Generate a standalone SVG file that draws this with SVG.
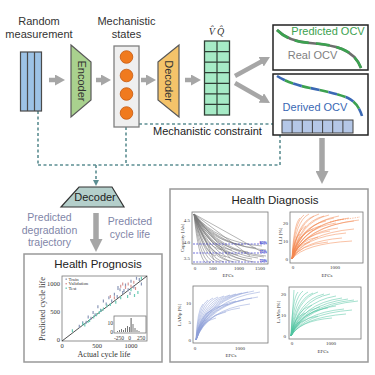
<svg xmlns="http://www.w3.org/2000/svg" width="375" height="375" viewBox="0 0 375 375">
<style>
.t{font-family:"Liberation Sans",Arial,sans-serif;fill:#333}
.s{font-family:"Liberation Serif","Times New Roman",serif;fill:#333}
.ga{stroke:#A6A6A6;stroke-width:4.5;fill:none}
.gb{stroke:#A6A6A6;stroke-width:5.5;fill:none}
.dl{stroke:#5C8E92;stroke-width:1.6;stroke-dasharray:3 2.5;fill:none}
.ax{fill:#fff;stroke:#777;stroke-width:0.8}
.cap{stroke:#777;stroke-width:0.55;fill:none}
.lli{stroke:#F4874F;stroke-width:0.6;fill:none;opacity:0.85}
.lamp{stroke:#8C9ED8;stroke-width:0.6;fill:none;opacity:0.85}
.lamn{stroke:#4FC3A1;stroke-width:0.6;fill:none;opacity:0.85}
.tk{font-family:"Liberation Serif","Times New Roman",serif;fill:#333;font-size:5px}
</style>
<defs>
<marker id="gh" viewBox="0 0 10 11" refX="3" refY="5.5" markerWidth="10" markerHeight="11" markerUnits="userSpaceOnUse" orient="auto"><path d="M0,0 L10,5.5 L0,11 z" fill="#A6A6A6"/></marker>
<marker id="gh2" viewBox="0 0 10 10" refX="2.3" refY="5" markerWidth="13" markerHeight="13" markerUnits="userSpaceOnUse" orient="auto"><path d="M0,0 L10,5 L0,10 z" fill="#A6A6A6"/></marker>
<marker id="dh" viewBox="0 0 8 8" refX="2" refY="4" markerWidth="6" markerHeight="6" markerUnits="userSpaceOnUse" orient="auto"><path d="M0,0 L8,4 L0,8 z" fill="#5C8E92"/></marker>
</defs>

<g id="connectors">
<line class="ga" x1="49" y1="80" x2="58" y2="80" marker-end="url(#gh)"/>
<line class="ga" x1="96" y1="80" x2="104" y2="80" marker-end="url(#gh)"/>
<line class="ga" x1="141" y1="80" x2="149" y2="80" marker-end="url(#gh)"/>
<line class="ga" x1="185" y1="80" x2="194" y2="80" marker-end="url(#gh)"/>
<line class="ga" x1="235" y1="76" x2="263.8" y2="60.3" marker-end="url(#gh)"/>
<line class="ga" x1="235" y1="83" x2="263.9" y2="99.5" marker-end="url(#gh)"/>
<line class="gb" x1="96" y1="213" x2="96" y2="242" marker-end="url(#gh2)"/>
<line class="gb" x1="322" y1="138" x2="322" y2="174" marker-end="url(#gh2)"/>
<path class="dl" d="M38,111 V165 M126,127 V165 M38,165 H280 V135"/>
<line class="dl" x1="139" y1="124" x2="276.5" y2="124" marker-end="url(#dh)"/>
<line class="dl" x1="96" y1="165" x2="96" y2="181.5" marker-end="url(#dh)"/>
</g>

<g id="random-measurement">
<text class="t" x="39" y="25" font-size="11" text-anchor="middle">Random</text>
<text class="t" x="39" y="38" font-size="11" text-anchor="middle">measurement</text>
<rect x="20.5" y="52" width="21" height="59" fill="#9DC3E6" stroke="#4a4a4a" stroke-width="1.2"/>
<path d="M27.5,52 V111 M34.5,52 V111" stroke="#4a4a4a" stroke-width="1.2"/>
</g>

<g id="encoder">
<polygon points="71,45 91,62 91,100 71,117" fill="#A9D18E" stroke="#595959" stroke-width="1.2"/>
<text class="t" font-size="11" text-anchor="middle" transform="translate(77.5,81) rotate(90)">Encoder</text>
</g>

<g id="mechanistic-states">
<text class="t" x="126.5" y="25" font-size="11" text-anchor="middle">Mechanistic</text>
<text class="t" x="126.5" y="38" font-size="11" text-anchor="middle">states</text>
<rect x="114" y="46" width="25" height="81" fill="#EFEFEF" stroke="#7F7F7F" stroke-width="1.3"/>
<g fill="#F07A1E" stroke="#C55A11" stroke-width="0.8">
<circle cx="126.5" cy="57" r="6.3"/>
<circle cx="126.5" cy="75.5" r="6.3"/>
<circle cx="126.5" cy="94" r="6.3"/>
<circle cx="126.5" cy="113" r="6.3"/>
</g>
</g>

<g id="decoder">
<polygon points="158,62 179,45 179,117 158,100" fill="#F4C36A" stroke="#595959" stroke-width="1.2"/>
<text class="t" font-size="11" text-anchor="middle" transform="translate(165,81) rotate(90)">Decoder</text>
</g>

<g id="vq-grid">
<text class="s" x="216.5" y="35" font-size="10" font-style="italic" text-anchor="middle">V̂ Q̂</text>
<rect x="204.5" y="41" width="25" height="74" fill="#A6EBC6" stroke="#2F3F35" stroke-width="1.3"/>
<path d="M217,41 V115 M204.5,51.6 H229.5 M204.5,62.1 H229.5 M204.5,72.7 H229.5 M204.5,83.3 H229.5 M204.5,93.9 H229.5 M204.5,104.4 H229.5" stroke="#2F3F35" stroke-width="1.2"/>
</g>

<g id="predicted-ocv">
<rect x="273" y="25" width="95" height="45" fill="#fff" stroke="#222" stroke-width="1.5"/>
<path d="M277,30 C285,38 295,42 310,43 C322,44 332,45 342,49 C352,53 358,60 361,68" fill="none" stroke="#6E6E6E" stroke-width="2.6"/>
<path d="M277,30 C285,38 295,42 310,43 C322,44 332,45 342,49 C352,53 358,60 361,68" fill="none" stroke="#3CA150" stroke-width="2.6" stroke-dasharray="14 7"/>
<text class="t" x="328" y="35" font-size="11" text-anchor="middle" style="fill:#3CA150">Predicted OCV</text>
<text class="t" x="312.5" y="59" font-size="11" text-anchor="middle" style="fill:#7F7F7F">Real OCV</text>
</g>

<g id="derived-ocv">
<rect x="273" y="74" width="95" height="61" fill="#fff" stroke="#222" stroke-width="1.5"/>
<path d="M277,76 C285,81 295,85 310,88 C325,91 338,94 348,98 C356,102 360,109 362,116" fill="none" stroke="#3CA150" stroke-width="2.6" stroke-dasharray="9 9" stroke-dashoffset="9"/>
<path d="M277,76 C285,81 295,85 310,88 C325,91 338,94 348,98 C356,102 360,109 362,116" fill="none" stroke="#3A68B4" stroke-width="2.6" stroke-dasharray="9 9"/>
<text class="t" x="315" y="111" font-size="11" text-anchor="middle" style="fill:#3A68B4">Derived OCV</text>
<rect x="282" y="120" width="71" height="13" fill="#B4C7E7" stroke="#404040" stroke-width="1"/>
<path d="M292.1,120 V133 M302.3,120 V133 M312.4,120 V133 M322.6,120 V133 M332.7,120 V133 M342.9,120 V133" stroke="#404040" stroke-width="1"/>
</g>

<g id="mechanistic-constraint">
<text class="t" x="153" y="135" font-size="11" style="fill:#222">Mechanistic constraint</text>
</g>

<g id="decoder-bottom">
<polygon points="79,187 112,187 124,207 61,207" fill="#B4CFCB" stroke="#333" stroke-width="1.2"/>
<text class="t" x="95" y="201" font-size="11" text-anchor="middle" style="fill:#222">Decoder</text>
</g>

<g id="prediction-labels">
<text class="t" x="49.5" y="221" font-size="10.5" text-anchor="middle" style="fill:#7F86A8">Predicted</text>
<text class="t" x="49.5" y="233.5" font-size="10.5" text-anchor="middle" style="fill:#7F86A8">degradation</text>
<text class="t" x="49.5" y="246" font-size="10.5" text-anchor="middle" style="fill:#7F86A8">trajectory</text>
<text class="t" x="130" y="225" font-size="10.5" text-anchor="middle" style="fill:#7F86A8">Predicted</text>
<text class="t" x="130" y="238" font-size="10.5" text-anchor="middle" style="fill:#7F86A8">cycle life</text>
</g>

<g id="health-prognosis">
<rect x="24" y="254" width="138" height="108" fill="#fff" stroke="#999" stroke-width="1.5"/>
<text class="t" x="98" y="268" font-size="11.5" text-anchor="middle" style="fill:#222">Health Prognosis</text>
<rect x="62" y="276" width="85" height="65" class="ax"/>
<line x1="62" y1="341" x2="147" y2="276" stroke="#222" stroke-width="0.8"/>
<path d="M79.3,324.7v3 M82.7,321.3v3 M86.2,320.7v3 M88.2,315.6v3 M91,316.7v3 M93.1,311v3 M95.1,313.3v3 M97.9,305.3v3 M100.6,308.7v3 M103.4,299.6v3 M106.2,302.5v3 M108.9,296.2v3 M111.7,299.6v3 M114.4,292.8v3 M117.2,295v3 M120,288.2v3 M122.7,291v3 M125.5,283.6v3 M128.2,288.2v3 M131,279.7v3 M133.8,285.4v3 M136.5,276.8v3 M139.3,278v3 M141.4,282.5v3 M118,286v4 M124,289v3 M130,292v3" stroke="#8A97B8" stroke-width="1.2"/>
<path d="M120.7,284.8v3 M122.7,282.5v3 M125.5,285.9v3 M128.2,282.5v3 M131,284.8v3 M133.8,280.8v3 M110.3,295v3 M114.4,296.2v3 M135.5,287v3" stroke="#D99694" stroke-width="1.2"/>
<path d="M72.4,329.2v3 M82.7,322.4v3 M84.8,323.5v3 M89.6,319v3 M93.7,315.6v3 M96.5,313.3v3 M99.3,311v3 M103.4,307.6v3 M106.9,304.2v3 M110.3,303v3 M115.8,300.7v3 M120.7,296.2v3 M127.6,295v3 M134.5,293.9v3 M137.9,291v3 M141.4,276.8v3 M131,288.2v3 M88,321v2 M101,309v3" stroke="#6CCBB5" stroke-width="1.2"/>
<rect x="65.5" y="278.5" width="1.4" height="1.4" fill="#8A97B8"/>
<rect x="65.5" y="283" width="1.4" height="1.4" fill="#D99694"/>
<rect x="65.5" y="287.5" width="1.4" height="1.4" fill="#6CCBB5"/>
<text class="s" x="68.5" y="280.5" font-size="4.8">Train</text>
<text class="s" x="68.5" y="285" font-size="4.8">Validation</text>
<text class="s" x="68.5" y="289.5" font-size="4.8">Test</text>
<rect x="114" y="316" width="32" height="17" class="ax"/>
<path d="M117,331h1v1h-1z M119,330h1v2h-1z M121,329h1v3h-1z M123,330h1v2h-1z M125,328h1v4h-1z M127,326h1v6h-1z M129,327h1v5h-1z M130.5,318h1.2v14h-1.2z M132.5,324h1v8h-1z M134.5,328h1v4h-1z M136.5,330h1v2h-1z M138.5,331h1v1h-1z" fill="#777"/>
<text class="s" x="113" y="325" font-size="5.5" text-anchor="end">10</text>
<text class="s" x="113" y="334" font-size="5.5" text-anchor="end">0</text>
<text class="s" x="119" y="339.5" font-size="5.5" text-anchor="middle">-250</text>
<text class="s" x="129.5" y="339.5" font-size="5.5" text-anchor="middle">0</text>
<text class="s" x="141" y="339.5" font-size="5.5" text-anchor="middle">250</text>
<text class="s" x="60" y="286" font-size="6.5" text-anchor="end">1000</text>
<text class="s" x="60" y="313.5" font-size="6.5" text-anchor="end">500</text>
<text class="s" x="60" y="342" font-size="6.5" text-anchor="end">0</text>
<text class="s" x="62" y="347.5" font-size="6.5" text-anchor="middle">0</text>
<text class="s" x="97" y="347.5" font-size="6.5" text-anchor="middle">500</text>
<text class="s" x="131" y="347.5" font-size="6.5" text-anchor="middle">1000</text>
<text class="s" x="104" y="356.5" font-size="8" text-anchor="middle">Actual cycle life</text>
<text class="s" font-size="8.3" text-anchor="middle" transform="translate(45,309) rotate(-90)">Predicted cycle life</text>
</g>

<g id="health-diagnosis">
<rect x="170" y="189" width="198" height="173" fill="#fff" stroke="#999" stroke-width="1.5"/>
<text class="t" x="275" y="204" font-size="11.5" text-anchor="middle" style="fill:#222">Health Diagnosis</text>

<rect x="192" y="212" width="76" height="52" class="ax"/>
<path class="cap" d="M194,214 Q198.2,258.1 206,263 M194,214 Q199.6,258.1 210,263 M194,214 Q201,257.2 214,262 M194,214 Q202.8,257.2 219,262 M194,214 Q204.5,257.2 224,262 M194,214 Q206.3,256.3 229,261 M194,214 Q208,257.2 234,262 M194,214 Q210.1,256.3 240,261 M194,214 Q212.2,255.4 246,260 M194,214 Q214.3,254.5 252,259 M194,214 Q216.4,253.6 258,258 M194,214 Q218.5,252.7 264,257 M194,214 Q219.2,246.4 266,250 M194,214 Q217.8,242.8 262,246 M194,214 Q215.7,244.6 256,248 M194,214 Q212.9,248.2 248,252 M194,214 Q209.4,250.9 238,255 M194,214 Q205.2,252.7 226,257 M194,214 Q201.7,251.8 216,256 M194,214 Q211.5,241.9 244,245 M194,214 Q207.3,246.4 232,250 M194,214 Q219.2,251.8 266,256 M194,214 Q203.8,246.4 222,250 M194,214 Q215,257.2 254,262 M194,214 L230,258 M194,214 L250,256 M194,214 L262,252 M194,214 L214,260"/>
<path d="M193,244 H267 M193,253 H267 M193,262 H267" stroke="#3333CC" stroke-width="0.7" stroke-dasharray="2 1.2"/>
<text x="267" y="243.5" font-family="Liberation Sans,Arial,sans-serif" font-size="3.8" font-weight="bold" fill="#3333CC" text-anchor="end">80%</text>
<text x="267" y="252.5" font-family="Liberation Sans,Arial,sans-serif" font-size="3.8" font-weight="bold" fill="#3333CC" text-anchor="end">75%</text>
<text x="267" y="261.5" font-family="Liberation Sans,Arial,sans-serif" font-size="3.8" font-weight="bold" fill="#3333CC" text-anchor="end">70%</text>
<text class="tk" x="190" y="222" text-anchor="end">4.5</text>
<text class="tk" x="190" y="243.5" text-anchor="end">4.0</text>
<text class="tk" x="190" y="259.5" text-anchor="end">3.5</text>
<text class="tk" x="195" y="270" text-anchor="middle">0</text>
<text class="tk" x="213" y="270" text-anchor="middle">500</text>
<text class="tk" x="239" y="270" text-anchor="middle">1000</text>
<text class="tk" x="260" y="270" text-anchor="middle">1500</text>
<text class="tk" x="228" y="276.5" text-anchor="middle" font-size="5.5">EFCs</text>
<text class="tk" font-size="5" text-anchor="middle" transform="translate(183.5,238) rotate(-90)">Capacity [Ah]</text>

<rect x="290" y="212" width="73" height="51" class="ax"/>
<path class="lli" d="M292,259 Q293.6,224.2 300,218 M292,259 Q294.4,221.6 304,215 M292,259 Q295.4,220.8 309,214 M292,259 Q296.4,222.5 314,216 M292,259 Q297.4,220.8 319,214 M292,259 Q298.4,222.5 324,216 M292,259 Q299.4,221.6 329,215 M292,259 Q300.4,224.2 334,218 M292,259 Q301.4,222.5 339,216 M292,259 Q302.4,225 344,219 M292,259 Q303.4,224.2 349,218 M292,259 Q304.4,226.7 354,221 M292,259 Q305.4,225.9 359,220 M292,259 Q294.8,231 306,226 M292,259 Q296.2,233.5 313,229 M292,259 Q297.8,231 321,226 M292,259 Q299.6,235.2 330,231 M292,259 Q301.2,232.7 338,228 M292,259 Q302.8,236.9 346,233 M292,259 Q304.4,233.5 354,229 M292,259 Q297.2,240.3 318,237 M292,259 Q299.2,244.6 328,242 M292,259 Q302,241.2 342,238 M292,259 Q293.6,237.8 300,234 M292,259 Q295.6,244.6 310,242 M292,259 Q304,243.7 352,241 M292,259 Q300.8,228.4 336,223 M292,259 Q298.8,226.7 326,221"/>
<path d="M330,222 L338,220 L346,219 L354,218 L360,217" stroke="#F4874F" stroke-width="0.5" stroke-dasharray="1.5 1" fill="none"/>
<text class="tk" x="288" y="224.5" text-anchor="end">20</text>
<text class="tk" x="288" y="242.5" text-anchor="end">10</text>
<text class="tk" x="288" y="260.5" text-anchor="end">0</text>
<text class="tk" x="293" y="268.5" text-anchor="middle">0</text>
<text class="tk" x="335" y="268.5" text-anchor="middle">1000</text>
<text class="tk" x="327" y="276.5" text-anchor="middle" font-size="5.5">EFCs</text>
<text class="tk" font-size="5" text-anchor="middle" transform="translate(282,236) rotate(-90)">LLI [%]</text>

<rect x="193" y="286" width="75" height="57" class="ax"/>
<path class="lamp" d="M196,340 Q197.4,309.4 203,304 M196,340 Q198.4,306 208,300 M196,340 Q199.4,304.3 213,298 M196,340 Q200.4,303.5 218,297 M196,340 Q201.6,302.6 224,296 M196,340 Q202.8,301.8 230,295 M196,340 Q204,300.9 236,294 M196,340 Q205.2,300.1 242,293 M196,340 Q206.4,299.2 248,292 M196,340 Q207.6,298.4 254,291 M196,340 Q208.8,299.2 260,292 M196,340 Q199.2,314.5 212,310 M196,340 Q200.8,311.1 220,306 M196,340 Q202.4,309.4 228,304 M196,340 Q204,306.9 236,301 M196,340 Q205.6,306 244,300 M196,340 Q207.2,304.3 252,298 M196,340 Q208.4,303.5 258,297 M196,340 Q202,316.2 226,312 M196,340 Q204.8,312.8 240,308 M196,340 Q200,321.3 216,318 M196,340 Q206.8,309.4 250,304 M196,340 Q198,323 206,320"/>
<text class="tk" x="191" y="305" text-anchor="end">10</text>
<text class="tk" x="191" y="323.5" text-anchor="end">5</text>
<text class="tk" x="191" y="341.5" text-anchor="end">0</text>
<text class="tk" x="195" y="349.5" text-anchor="middle">0</text>
<text class="tk" x="240" y="349.5" text-anchor="middle">1000</text>
<text class="tk" x="231" y="356.5" text-anchor="middle" font-size="5.5">EFCs</text>
<text class="tk" font-size="5" text-anchor="middle" transform="translate(181,315) rotate(-90)">LAMp [%]</text>

<rect x="289" y="287" width="72" height="52" class="ax"/>
<path class="lamn" d="M291,336 L294,290 M291,336 Q292.4,298.6 298,292 M291,336 Q293.4,297.8 303,291 M291,336 Q294.4,298.6 308,292 M291,336 Q295.4,299.5 313,293 M291,336 Q296.4,298.6 318,292 M291,336 Q297.6,300.3 324,294 M291,336 Q298.8,300.3 330,294 M291,336 Q300,302 336,296 M291,336 Q301.2,303.7 342,298 M291,336 Q302.4,304.6 348,299 M291,336 Q303.6,305.4 354,300 M291,336 Q304.4,306.3 358,301 M291,336 Q295.2,309.7 312,305 M291,336 Q296.8,311.4 320,307 M291,336 Q298.4,312.2 328,308 M291,336 Q300,310.5 336,306 M291,336 Q301.6,313.1 344,309 M291,336 Q303.2,313.9 352,310 M291,336 Q293.8,316.5 305,313 M291,336 Q296.4,319 318,316 M291,336 Q299.2,320.7 332,318 M291,336 Q302,317.3 346,314 M291,336 Q292.8,324.1 300,322"/>
<text class="tk" x="286" y="296" text-anchor="end">20</text>
<text class="tk" x="286" y="317" text-anchor="end">10</text>
<text class="tk" x="286" y="337.5" text-anchor="end">0</text>
<text class="tk" x="292" y="344.5" text-anchor="middle">0</text>
<text class="tk" x="331" y="344.5" text-anchor="middle">1000</text>
<text class="tk" x="323" y="352.5" text-anchor="middle" font-size="5.5">EFCs</text>
<text class="tk" font-size="5" text-anchor="middle" transform="translate(280,312) rotate(-90)">LAMn [%]</text>
</g>
</svg>
